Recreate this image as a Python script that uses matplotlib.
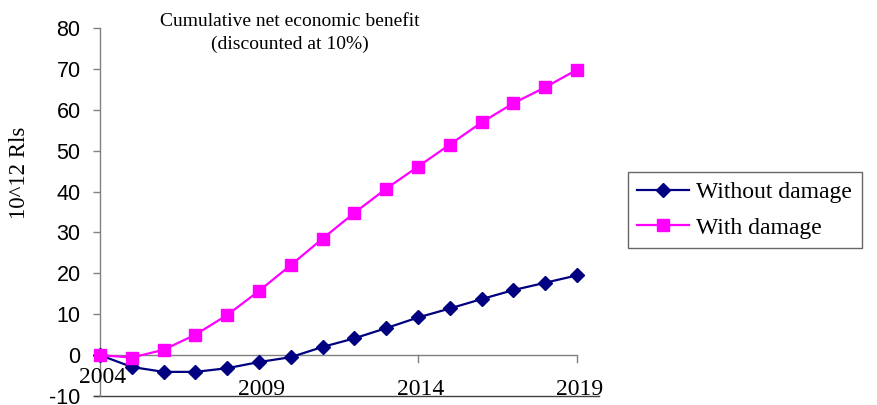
import matplotlib
matplotlib.use("Agg")
import matplotlib.pyplot as plt
from matplotlib.lines import Line2D
import matplotlib.transforms as mtransforms

plt.rcParams["axes.unicode_minus"] = False

# --- data ---------------------------------------------------------------
years = list(range(2004, 2020))
without_damage = [0.0, -2.9, -4.1, -4.1, -3.2, -1.7, -0.5, 2.0, 4.1, 6.6,
                  9.2, 11.4, 13.7, 15.9, 17.7, 19.5]
with_damage = [0.0, -0.6, 1.3, 5.0, 9.8, 15.7, 22.0, 28.5, 34.8, 40.7,
               46.1, 51.5, 56.9, 61.6, 65.5, 69.8]
x_labels = [2004, 2009, 2014, 2019]
y_ticks = list(range(-10, 81, 10))

NAVY = "#000080"
MAGENTA = "#FF00FF"
GREY = "#808080"
SERIF = "Liberation Serif"
SANS = "Liberation Sans"

fig = plt.figure(figsize=(8.77, 4.05), dpi=100)
ax = fig.add_axes([100 / 877, 9 / 405, 477 / 877, 368 / 405])

ax.plot(years, without_damage, color=NAVY, lw=1.6, marker="D", ms=7.5,
        mec=NAVY, mfc=NAVY, label="Without damage", clip_on=False, zorder=3)
ax.plot(years, with_damage, color=MAGENTA, lw=1.6, marker="s", ms=8,
        mec=MAGENTA, mfc=MAGENTA, label="With damage", clip_on=False, zorder=3)

ax.set_xlim(2004, 2019)
ax.set_ylim(-10, 80)

# spines: grey y axis, category axis drawn through zero
for s in ["top", "right", "bottom"]:
    ax.spines[s].set_visible(False)
ax.spines["left"].set_color(GREY)
ax.spines["left"].set_linewidth(1.0)
ax.axhline(0, color=GREY, lw=1.0, zorder=1)
for xv in x_labels[1:]:
    ax.plot([xv, xv], [0, -1.7], color=GREY, lw=1.0, clip_on=False, zorder=1)
ax.add_line(Line2D([2003.8, 2019.7], [-10, -10], color="#404040", lw=1.0,
                   clip_on=False))

ax.set_yticks(y_ticks)
ax.tick_params(axis="y", direction="out", length=5, width=1.0, color=GREY,
               labelsize=15.5, pad=9)
for lab in ax.get_yticklabels():
    lab.set_fontfamily(SANS)
ax.set_xticks([])

# year labels sit on the bottom line; the first one is lifted a little
label_lift = {2004: 12}
trans = mtransforms.blended_transform_factory(ax.transData, ax.transAxes)
for xv in x_labels:
    off = mtransforms.offset_copy(trans, fig=fig, x=0,
                                  y=label_lift.get(xv, 0) * 72 / 100 + 1,
                                  units="points")
    ax.text(xv + 0.08, 0, str(xv), transform=off, ha="center", va="baseline",
            fontsize=17, family=SERIF)

fig.text(290 / 877, 1 - 33 / 405,
         "Cumulative net economic benefit\n(discounted at 10%)",
         ha="center", va="center", fontsize=14, family=SERIF,
         linespacing=1.4)

fig.text(20 / 877, 1 - 173 / 405, "10^12 Rls", rotation=90, ha="center",
         va="center", fontsize=16.5, family=SERIF)

leg = fig.legend(loc="upper left", bbox_to_anchor=(628 / 877, 1 - 172 / 405),
                 frameon=True, fancybox=False, edgecolor="#404040",
                 prop={"family": SERIF, "size": 17}, handlelength=2.2,
                 handletextpad=0.3, borderpad=0.4, labelspacing=0.6,
                 borderaxespad=0)
leg.get_frame().set_linewidth(1.0)

fig.savefig("out.png", dpi=100)
